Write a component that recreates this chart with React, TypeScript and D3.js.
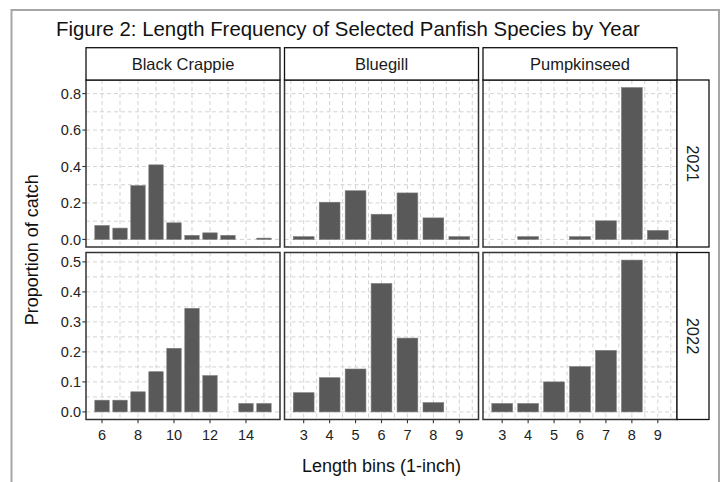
import * as d3 from "d3"

// facets
const species = ["Black Crappie", "Bluegill", "Pumpkinseed"]
const years = ["2021", "2022"]

// length bins (inches) and proportion of catch, null = no fish in that bin
const crappieBins = [6, 7, 8, 9, 10, 11, 12, 13, 14, 15]
const crappie2021 = [0.076, 0.062, 0.295, 0.409, 0.091, 0.022, 0.036, 0.022, null, 0.007]
const crappie2022 = [0.039, 0.039, 0.067, 0.134, 0.212, 0.345, 0.121, null, 0.028, 0.028]

const bluegillBins = [3, 4, 5, 6, 7, 8, 9]
const bluegill2021 = [0.015, 0.204, 0.267, 0.138, 0.255, 0.118, 0.015]
const bluegill2022 = [0.064, 0.114, 0.143, 0.428, 0.246, 0.031, null]

const pumpkinseedBins = [3, 4, 5, 6, 7, 8, 9]
const pumpkinseed2021 = [null, 0.015, null, 0.015, 0.102, 0.833, 0.049]
const pumpkinseed2022 = [0.028, 0.028, 0.1, 0.151, 0.205, 0.506, null]

// tick labels
const crappieTicks = [6, 8, 10, 12, 14]
const bluegillTicks = [3, 4, 5, 6, 7, 8, 9]
const pumpkinseedTicks = [3, 4, 5, 6, 7, 8, 9]
const yTicks2021 = [0, 0.2, 0.4, 0.6, 0.8]
const yTicks2022 = [0, 0.1, 0.2, 0.3, 0.4, 0.5]

const bins = [crappieBins, bluegillBins, pumpkinseedBins]
const xTicks = [crappieTicks, bluegillTicks, pumpkinseedTicks]
const yTicks = [yTicks2021, yTicks2022]
const values = [
  [crappie2021, bluegill2021, pumpkinseed2021],
  [crappie2022, bluegill2022, pumpkinseed2022],
]

const title = "Figure 2: Length Frequency of Selected Panfish Species by Year"
const xTitle = "Length bins (1-inch)"
const yTitle = "Proportion of catch"

// layout
const panelLeft = 86
const panelTop = 80
const panelW = 194
const panelH = 167
const gapX = 4.5
const gapY = 5.5
const stripH = 32.3
const stripW = 32
const barWidth = 0.8

const font = "'Liberation Sans', Arial, sans-serif"
const gridColor = "#d3d3d3"
const dash = "4,3"

// midpoints between major breaks, extended one step either side
const minorBreaks = (ticks: number[], domain: number[]) => {
  const step = ticks[1] - ticks[0]
  const out: number[] = []
  for (let i = -1; i < ticks.length; i++) {
    const v = ticks[0] + (i + 0.5) * step
    if (v >= domain[0] && v <= domain[1]) out.push(v)
  }
  return out
}

const App = () => {
  const colX = (c: number) => panelLeft + c * (panelW + gapX)
  const rowY = (r: number) => panelTop + r * (panelH + gapY)

  // free x per column
  const xScales = bins.map((b, c) => {
    const lo = d3.min(b)! - barWidth / 2
    const hi = d3.max(b)! + barWidth / 2
    const pad = (hi - lo) * 0.05
    return d3.scaleLinear().domain([lo - pad, hi + pad]).range([colX(c), colX(c) + panelW])
  })

  // free y per row
  const yScales = values.map((row, r) => {
    const max = d3.max(row.flat().filter((v) => v != null) as number[])!
    return d3.scaleLinear().domain([-max * 0.05, max * 1.05]).range([rowY(r) + panelH, rowY(r)])
  })

  return (
    <svg
      width={722}
      height={482}
      style={{ position: "absolute", left: 0, top: 0, background: "#fff" }}
      fontFamily={font}
    >
      <rect x={0} y={0} width={722} height={482} fill="#fff" />
      {/* outer frame */}
      <path d="M11.5,490 V10 H719 V490" fill="none" stroke="#a6a6a6" strokeWidth={2} />

      <text x={56} y={36} fontSize={20.4} fill="#111">{title}</text>

      {years.map((yr, r) =>
        species.map((sp, c) => {
          const x = xScales[c]
          const y = yScales[r]
          const [d0, d1] = y.domain()
          const x0 = colX(c)
          const y0 = rowY(r)
          const xMinor = minorBreaks(xTicks[c], x.domain())
          const yMinor = minorBreaks(yTicks[r], [d0, d1])
          return (
            <g key={yr + sp}>
              <rect x={x0} y={y0} width={panelW} height={panelH} fill="#fff" />
              <g stroke={gridColor} strokeWidth={1} strokeDasharray={dash} fill="none">
                {yMinor.map((v) => (
                  <line key={"ym" + v} x1={x0} x2={x0 + panelW} y1={y(v)} y2={y(v)} />
                ))}
                {xMinor.map((v) => (
                  <line key={"xm" + v} x1={x(v)} x2={x(v)} y1={y0} y2={y0 + panelH} />
                ))}
                {yTicks[r].map((v) => (
                  <line key={"y" + v} x1={x0} x2={x0 + panelW} y1={y(v)} y2={y(v)} />
                ))}
                {xTicks[c].map((v) => (
                  <line key={"x" + v} x1={x(v)} x2={x(v)} y1={y0} y2={y0 + panelH} />
                ))}
              </g>
              <g fill="#595959" stroke="#7a7a7a" strokeWidth={0.6}>
                {bins[c].map((b, i) => {
                  const v = values[r][c][i]
                  if (v == null) return null
                  return (
                    <rect
                      key={b}
                      x={x(b - barWidth / 2)}
                      width={x(b + barWidth / 2) - x(b - barWidth / 2)}
                      y={y(v)}
                      height={y(0) - y(v)}
                    />
                  )
                })}
              </g>
              <rect x={x0} y={y0} width={panelW} height={panelH} fill="none" stroke="#333" strokeWidth={1.5} />

              {/* column strip */}
              {r === 0 && (
                <g>
                  <rect x={x0} y={y0 - stripH} width={panelW} height={stripH} fill="#fff" stroke="#111" strokeWidth={1.3} />
                  <text x={x0 + panelW / 2} y={y0 - stripH / 2} dy="0.35em" textAnchor="middle" fontSize={16.5} fill="#1a1a1a">
                    {sp}
                  </text>
                </g>
              )}

              {/* row strip */}
              {c === species.length - 1 && (
                <g>
                  <rect x={x0 + panelW} y={y0} width={stripW} height={panelH} fill="#fff" stroke="#111" strokeWidth={1.3} />
                  <text
                    transform={`translate(${x0 + panelW + stripW / 2},${y0 + panelH / 2}) rotate(90)`}
                    dy="0.35em"
                    textAnchor="middle"
                    fontSize={16.5}
                    fill="#1a1a1a"
                  >
                    {yr}
                  </text>
                </g>
              )}

              {/* y axis */}
              {c === 0 && (
                <g>
                  {yTicks[r].map((v) => (
                    <g key={v}>
                      <line x1={x0 - 3.7} x2={x0} y1={y(v)} y2={y(v)} stroke="#333" strokeWidth={1.1} />
                      <text x={x0 - 5} y={y(v)} dy="0.36em" textAnchor="end" fontSize={14.5} fill="#222">
                        {d3.format(".1f")(v)}
                      </text>
                    </g>
                  ))}
                </g>
              )}

              {/* x axis */}
              {r === years.length - 1 && (
                <g>
                  {xTicks[c].map((v) => (
                    <g key={v}>
                      <line x1={x(v)} x2={x(v)} y1={y0 + panelH} y2={y0 + panelH + 3.7} stroke="#333" strokeWidth={1.1} />
                      <text x={x(v)} y={y0 + panelH + 20.5} textAnchor="middle" fontSize={14.5} fill="#222">
                        {v}
                      </text>
                    </g>
                  ))}
                </g>
              )}
            </g>
          )
        })
      )}

      <text
        x={panelLeft + (3 * panelW + 2 * gapX) / 2}
        y={472}
        textAnchor="middle"
        fontSize={18}
        fill="#111"
      >
        {xTitle}
      </text>
      <text
        transform={`translate(38,${panelTop + (2 * panelH + gapY) / 2}) rotate(-90)`}
        textAnchor="middle"
        fontSize={18}
        fill="#111"
      >
        {yTitle}
      </text>
    </svg>
  )
}

export default App
